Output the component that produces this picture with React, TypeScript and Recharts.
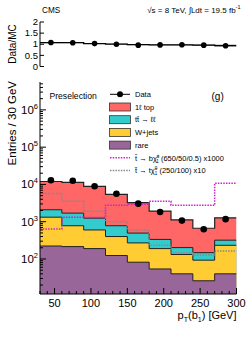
import React from 'react';
import { ComposedChart, Area, Line, Scatter, XAxis, YAxis } from 'recharts';

// binning in pT(b1), 30 GeV wide
const binEdges = [30, 60, 90, 120, 150, 180, 210, 240, 270, 300];
const binCenters = [45, 75, 105, 135, 165, 195, 225, 255, 285];

// background components (entries per bin)
const rare = [223, 215, 190, 124, 82, 54, 40, 26, 40];
const wJets = [1100, 565, 410, 276, 188, 136, 92, 67, 193];
const ttDilep = [770, 920, 645, 380, 225, 145, 70, 55, 87];
const oneLepTop = [9900, 9700, 7650, 4620, 2750, 1600, 920, 520, 950];

const dataCounts = [12900, 12600, 8900, 5600, 3050, 1820, 1070, 630, 1170];

// signal overlays (already scaled)
const sigBChargino = [636, 1320, 1300, 2760, 2940, 3550, 2760, 2760, 10700];
const sigTNeutralino = [5700, 3550, 1900, 1000, 600, 233, 148, 127, 163];

// ratio panel
const ratioPoints = [1.08, 1.07, 1.03, 1.0, 0.96, 0.97, 0.98, 0.96, 0.93];
const ratioLine = [1.07, 1.07, 1.03, 1.01, 0.98, 0.97, 0.97, 0.96, 0.94];
const ratioErr = [0.02, 0.02, 0.02, 0.02, 0.02, 0.03, 0.03, 0.04, 0.05];
const ratioTicks = [0, 0.5, 1, 1.5, 2];

const xLabels = [50, 100, 150, 200, 250, 300];

const FONT = '"Liberation Sans", Arial, Helvetica, sans-serif';
const RED = '#ff6666';
const CYAN = '#33cccc';
const YELLOW = '#ffcc33';
const PURPLE = '#996699';
const MAGENTA = '#cc22cc';
const GREY = '#888888';

const Y_MIN = 11.5;
const Y_MAX = 5.6e6;

// minor ticks every 10 GeV
const xTicks: number[] = [];
for (let v = 30; v <= 300; v += 10) xTicks.push(v);

// log ticks 2..9 x 10^n
const yTicks: number[] = [];
for (let d = 1; d <= 6; d++) {
  for (let m = 1; m <= 9; m++) {
    const v = m * Math.pow(10, d);
    if (v >= Y_MIN && v <= Y_MAX) yTicks.push(v);
  }
}

const last = binCenters.length - 1;
const stepRows = binEdges.map((x, i) => {
  const k = Math.min(i, last);
  const r = rare[k];
  const w = r + wJets[k];
  const tt = w + ttDilep[k];
  const tot = tt + oneLepTop[k];
  return {
    x,
    rare: r,
    wjets: w,
    ttll: tt,
    total: tot,
    sigB: sigBChargino[k],
    sigT: sigTNeutralino[k],
    rLine: ratioLine[k],
    rBand: [ratioLine[k] - ratioErr[k], ratioLine[k] + ratioErr[k]],
  };
});

const dataRows = binCenters.map((x, i) => ({ x, y: dataCounts[i] }));
const ratioRows = binCenters.map((x, i) => ({ x, y: ratioPoints[i] }));

const isLogMajor = (v: number) => Math.abs(Math.log10(v) - Math.round(Math.log10(v))) < 1e-6;

const makeXTick = (side: 'top' | 'bottom', majorLen: number, minorLen: number, labels: boolean) => (p: any) => {
  const { x, y, payload } = p;
  const major = payload.value % 50 === 0;
  const len = major ? majorLen : minorLen;
  const y2 = side === 'bottom' ? y - len : y + len;
  return (
    <g>
      <line x1={x} x2={x} y1={y} y2={y2} stroke="#000" strokeWidth={1} />
      {labels && major && xLabels.includes(payload.value) ? (
        <text x={x} y={y + 12.5} textAnchor="middle" fontSize={11} fontFamily={FONT} fill="#000">
          {payload.value}
        </text>
      ) : null}
    </g>
  );
};

const makeLogTick = (side: 'left' | 'right') => (p: any) => {
  const { x, y, payload } = p;
  const major = isLogMajor(payload.value);
  const len = major ? 6 : 3;
  const x2 = side === 'left' ? x + len : x - len;
  const exp = Math.round(Math.log10(payload.value));
  return (
    <g>
      <line x1={x} x2={x2} y1={y} y2={y} stroke="#000" strokeWidth={1} />
      {side === 'left' && major ? (
        <text x={x - 2} y={y + 4} textAnchor="end" fontSize={11.5} fontFamily={FONT} fill="#000">
          10
          <tspan fontSize={7.5} dy={-5}>{exp}</tspan>
        </text>
      ) : null}
    </g>
  );
};

const makeRatioYTick = (side: 'left' | 'right') => (p: any) => {
  const { x, y, payload } = p;
  const x2 = side === 'left' ? x + 4 : x - 4;
  return (
    <g>
      <line x1={x} x2={x2} y1={y} y2={y} stroke="#000" strokeWidth={1} />
      {side === 'left' ? (
        <text x={x - 2} y={y + 3.2} textAnchor="end" fontSize={9.5} fontFamily={FONT} fill="#000">
          {payload.value}
        </text>
      ) : null}
    </g>
  );
};

const dot = (p: any) => <circle cx={p.cx} cy={p.cy} r={3.3} fill="#000" />;
const smallDot = (p: any) => <circle cx={p.cx} cy={p.cy} r={2.8} fill="#000" />;

const axisLine = { stroke: '#000', strokeWidth: 1 };

const LegendOverlay = () => {
  const rowY = [94.3, 107, 119.7, 132.4, 145.1, 157.8, 170.5];
  const tx = 135;
  const fs = 7.5;
  const box = (y: number, fill: string) => (
    <rect x={109.5} y={y - 4} width={21} height={8} fill={fill} stroke="#333" strokeWidth={0.8} />
  );
  return (
    <svg width={249} height={338} style={{ position: 'absolute', left: 0, top: 0, pointerEvents: 'none' }}>
      <g fontFamily={FONT} fill="#000">
        <text x={42} y={12.5} fontSize={8.2}>CMS</text>
        <text x={240.5} y={12.5} fontSize={8} textAnchor="end">
          √s = 8 TeV, ∫Ldt = 19.5 fb<tspan fontSize={5.5} dy={-3.5}>-1</tspan>
        </text>

        <text x={49.5} y={99} fontSize={8.6}>Preselection</text>
        <text x={211.5} y={100} fontSize={10}>(g)</text>

        <line x1={110} x2={130} y1={rowY[0]} y2={rowY[0]} stroke="#000" strokeWidth={1} />
        <circle cx={120} cy={rowY[0]} r={3} fill="#000" />
        <text x={tx} y={rowY[0] + 2.7} fontSize={fs}>Data</text>

        {box(rowY[1], RED)}
        <text x={tx} y={rowY[1] + 2.7} fontSize={fs}>1ℓ top</text>
        {box(rowY[2], CYAN)}
        <text x={tx} y={rowY[2] + 2.7} fontSize={fs}>tt̄ → ℓℓ</text>
        {box(rowY[3], YELLOW)}
        <text x={tx} y={rowY[3] + 2.7} fontSize={fs}>W+jets</text>
        {box(rowY[4], PURPLE)}
        <text x={tx} y={rowY[4] + 2.7} fontSize={fs}>rare</text>

        <line x1={110} x2={130} y1={rowY[5]} y2={rowY[5]} stroke={MAGENTA} strokeWidth={1.5} strokeDasharray="1.5 1.2" />
        <text x={tx} y={rowY[5] + 2.7} fontSize={fs}>
          t̃ → bχ̃<tspan fontSize={4.5} dy={-3}>±</tspan>
          <tspan fontSize={4.5} dx={-3} dy={5}>1</tspan>
          <tspan dy={-2}> (650/50/0.5) x1000</tspan>
        </text>

        <line x1={110} x2={130} y1={rowY[6]} y2={rowY[6]} stroke={GREY} strokeWidth={1.5} strokeDasharray="1.5 1.2" />
        <text x={tx} y={rowY[6] + 2.7} fontSize={fs}>
          t̃ → tχ̃<tspan fontSize={4.5} dy={-3}>0</tspan>
          <tspan fontSize={4.5} dx={-2.5} dy={5}>1</tspan>
          <tspan dy={-2}> (250/100) x10</tspan>
        </text>

        <text transform="translate(15.5, 44) rotate(-90)" fontSize={10} textAnchor="middle">Data/MC</text>
        <text transform="translate(16, 81) rotate(-90)" fontSize={11.5} textAnchor="end">Entries / 30 GeV</text>

        <text x={236.5} y={319} fontSize={11} textAnchor="end">
          p<tspan fontSize={7} dy={3}>T</tspan>
          <tspan dy={-3}>(b</tspan>
          <tspan fontSize={7} dy={3}>1</tspan>
          <tspan dy={-3}>) [GeV]</tspan>
        </text>
      </g>
    </svg>
  );
};

const App = () => {
  return (
    <div style={{ position: 'absolute', left: 0, top: 0, width: 249, height: 338, background: '#fff', fontFamily: FONT }}>
      {/* ratio panel */}
      <div style={{ position: 'absolute', left: 0, top: 0 }}>
        <ComposedChart width={249} height={80} data={stepRows} margin={{ top: 22, right: 12.5, bottom: 13.5, left: 0 }}>
          <XAxis xAxisId="b" dataKey="x" type="number" domain={[30, 300]} ticks={xTicks} interval={0}
            allowDataOverflow tickSize={0} tickMargin={0} tickLine={false} axisLine={axisLine} height={0}
            tick={makeXTick('bottom', 4, 2, false)} />
          <XAxis xAxisId="t" orientation="top" dataKey="x" type="number" domain={[30, 300]} ticks={xTicks} interval={0}
            allowDataOverflow tickSize={0} tickMargin={0} tickLine={false} axisLine={axisLine} height={0}
            tick={makeXTick('top', 4, 2, false)} />
          <YAxis yAxisId="l" type="number" domain={[0, 2]} ticks={ratioTicks} interval={0} allowDataOverflow
            tickSize={0} tickMargin={0} tickLine={false} axisLine={axisLine} width={40}
            tick={makeRatioYTick('left')} />
          <YAxis yAxisId="r" orientation="right" type="number" domain={[0, 2]} ticks={ratioTicks} interval={0}
            allowDataOverflow tickSize={0} tickMargin={0} tickLine={false} axisLine={axisLine} width={0}
            tick={makeRatioYTick('right')} />
          <Area xAxisId="b" yAxisId="l" type="stepAfter" dataKey="rBand" fill="#aaaaaa" fillOpacity={1}
            stroke="none" isAnimationActive={false} />
          <Line xAxisId="b" yAxisId="l" type="stepAfter" dataKey="rLine" stroke="#000" strokeWidth={1.3}
            dot={false} isAnimationActive={false} />
          <Scatter xAxisId="b" yAxisId="l" data={ratioRows} dataKey="y" shape={smallDot} isAnimationActive={false} />
        </ComposedChart>
      </div>

      {/* main panel */}
      <div style={{ position: 'absolute', left: 0, top: 0 }}>
        <ComposedChart width={249} height={338} data={stepRows} margin={{ top: 82, right: 12.5, bottom: 0, left: 0 }}>
          <XAxis xAxisId="b" dataKey="x" type="number" domain={[30, 300]} ticks={xTicks} interval={0}
            allowDataOverflow tickSize={0} tickMargin={0} tickLine={false} axisLine={axisLine} height={44}
            tick={makeXTick('bottom', 6, 3, true)} />
          <XAxis xAxisId="t" orientation="top" dataKey="x" type="number" domain={[30, 300]} ticks={xTicks} interval={0}
            allowDataOverflow tickSize={0} tickMargin={0} tickLine={false} axisLine={axisLine} height={0}
            tick={makeXTick('top', 6, 3, false)} />
          <YAxis yAxisId="l" type="number" scale="log" domain={[Y_MIN, Y_MAX]} ticks={yTicks} interval={0}
            allowDataOverflow tickSize={0} tickMargin={0} tickLine={false} axisLine={axisLine} width={40}
            tick={makeLogTick('left')} />
          <YAxis yAxisId="r" orientation="right" type="number" scale="log" domain={[Y_MIN, Y_MAX]} ticks={yTicks}
            interval={0} allowDataOverflow tickSize={0} tickMargin={0} tickLine={false} axisLine={axisLine} width={0}
            tick={makeLogTick('right')} />

          <Area xAxisId="b" yAxisId="l" type="stepAfter" dataKey="total" fill={RED} fillOpacity={1}
            stroke="#222" strokeWidth={1.2} baseValue="dataMin" isAnimationActive={false} />
          <Area xAxisId="b" yAxisId="l" type="stepAfter" dataKey="ttll" fill={CYAN} fillOpacity={1}
            stroke="#222" strokeWidth={1} baseValue="dataMin" isAnimationActive={false} />
          <Area xAxisId="b" yAxisId="l" type="stepAfter" dataKey="wjets" fill={YELLOW} fillOpacity={1}
            stroke="#222" strokeWidth={1} baseValue="dataMin" isAnimationActive={false} />
          <Area xAxisId="b" yAxisId="l" type="stepAfter" dataKey="rare" fill={PURPLE} fillOpacity={1}
            stroke="#222" strokeWidth={1} baseValue="dataMin" isAnimationActive={false} />

          <Line xAxisId="b" yAxisId="l" type="stepAfter" dataKey="sigT" stroke={GREY} strokeWidth={1.5}
            strokeDasharray="1.5 1.2" dot={false} isAnimationActive={false} />
          <Line xAxisId="b" yAxisId="l" type="stepAfter" dataKey="sigB" stroke={MAGENTA} strokeWidth={1.5}
            strokeDasharray="1.5 1.2" dot={false} isAnimationActive={false} />

          <Scatter xAxisId="b" yAxisId="l" data={dataRows} dataKey="y" shape={dot} isAnimationActive={false} />
        </ComposedChart>
      </div>

      <LegendOverlay />
    </div>
  );
};

export default App;
